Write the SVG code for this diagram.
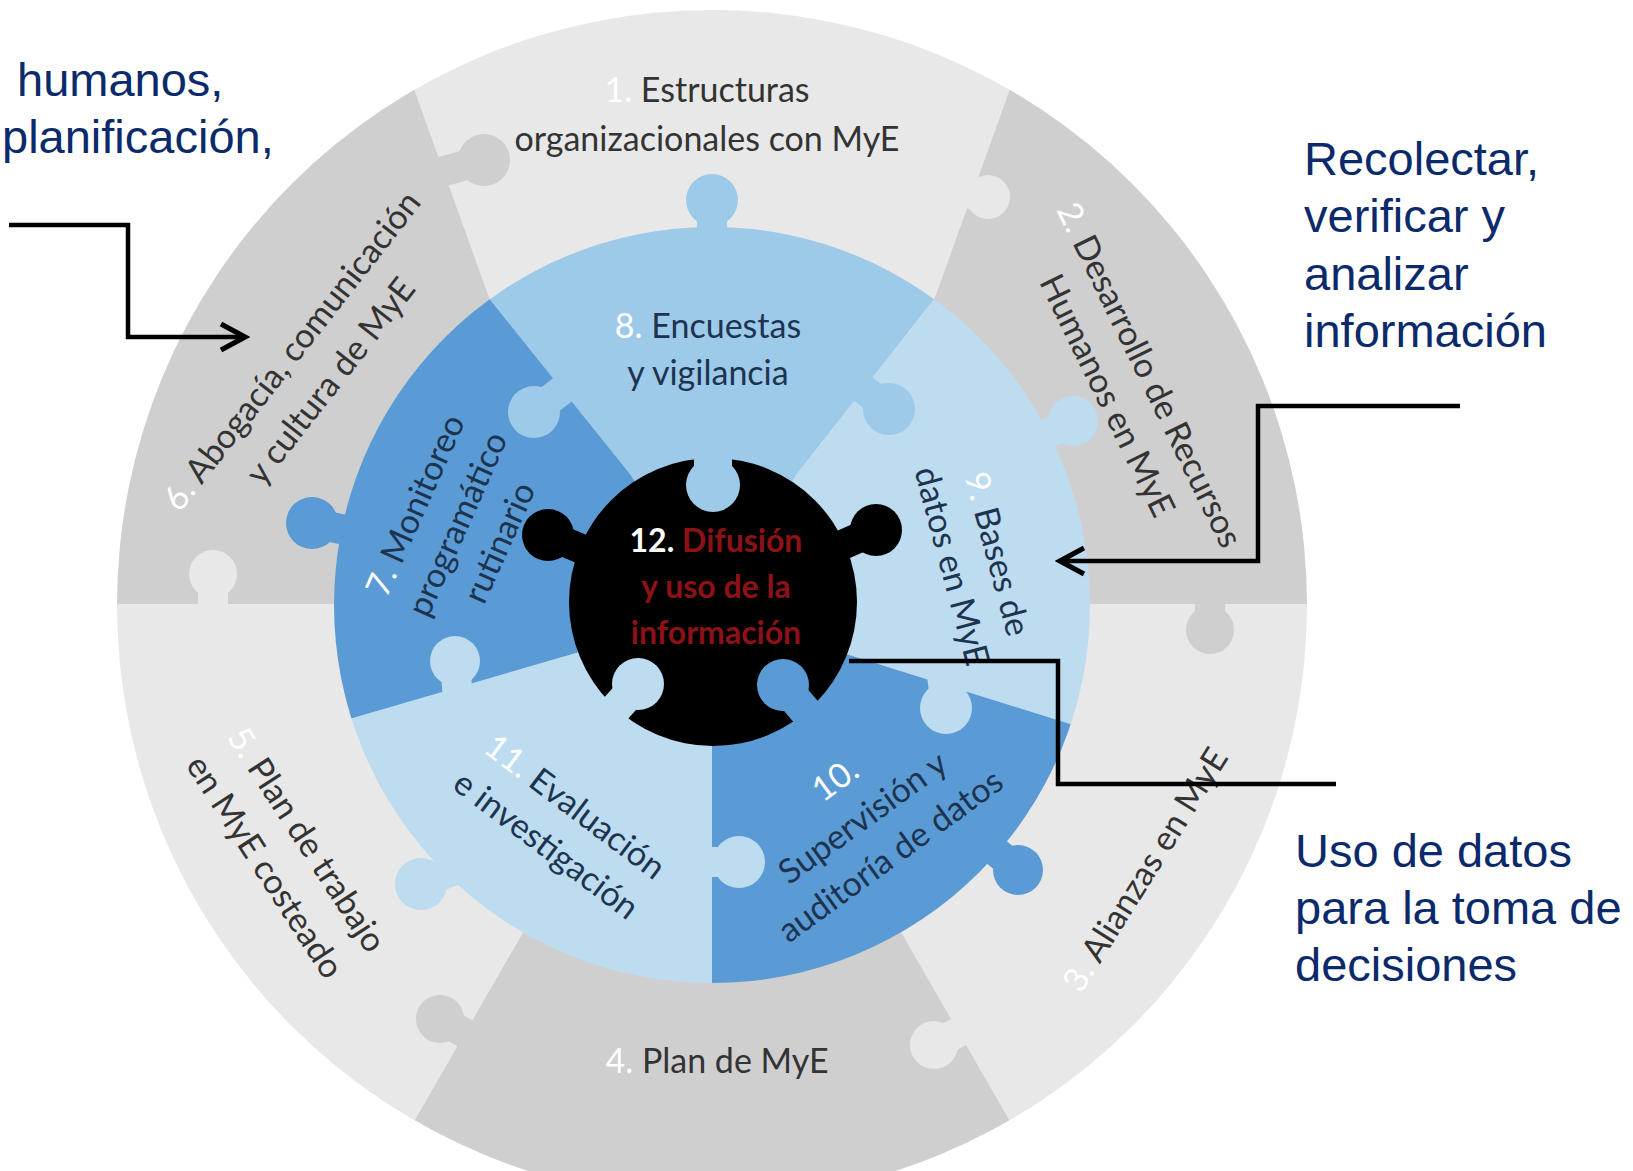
<svg xmlns="http://www.w3.org/2000/svg" width="1633" height="1171" viewBox="0 0 1633 1171">
<defs>
<style>
.dk{fill:#cfcfcf}.lt{fill:#e8e8e8}.b8{fill:#9ecae9}.bl{fill:#bddcf0}.bm{fill:#5b9bd5}.bk{fill:#000}
.ndk{stroke:#cfcfcf}.nlt{stroke:#e8e8e8}.nb8{stroke:#9ecae9}.nbl{stroke:#bddcf0}.nbm{stroke:#5b9bd5}.nbk{stroke:#000}
.neck{stroke-width:30;stroke-linecap:butt;fill:none}
.lbl{font-family:Lato,"Open Sans","Liberation Sans",sans-serif;font-size:34px;text-anchor:middle;fill:#333}
.in{fill:#1d3450}
.n{fill:#fff}
.ctr{font-family:Lato,"Liberation Sans",sans-serif;font-weight:bold;font-size:32px;text-anchor:middle;fill:#8e1118}
.note{font-family:"Liberation Sans",Arial,sans-serif;font-size:47px;fill:#0b2a6b}
.conn{fill:none;stroke:#000;stroke-width:4.5;stroke-linejoin:miter}
</style>
<clipPath id="co"><circle cx="712" cy="605" r="595"/></clipPath>
<clipPath id="ci"><circle cx="712" cy="605" r="378"/></clipPath>
<marker id="arr" markerUnits="userSpaceOnUse" markerWidth="36" markerHeight="36" viewBox="0 0 36 36" refX="31" refY="18" orient="auto"><path d="M7,5 L31,18 L7,31" fill="none" stroke="#000" stroke-width="5" stroke-linejoin="miter"/></marker>
</defs>
<rect width="1633" height="1171" fill="#fff"/>

<g id="outer-ring" clip-path="url(#co)">
  <g id="node-1"><polygon class="lt" points="712,605 489.8,299.2 346,-100 1078,-100 934.2,299.2"/></g>
  <g id="node-2"><polygon class="dk" points="712,604 934.2,299.2 1078,-100 1400,-100 1400,604"/></g>
  <g id="node-3"><polygon class="lt" points="712,604 1400,604 1400,1300 1112,1298"/></g>
  <g id="node-4"><polygon class="dk" points="712,604 1112,1298 312,1298"/></g>
  <g id="node-5"><polygon class="lt" points="712,604 312,1298 0,1300 0,604"/></g>
  <g id="node-6"><polygon class="dk" points="712,604 0,604 0,-100 346,-100 489.8,299.2"/></g>
</g>

<g id="outer-tabs">
  <line class="neck ndk" x1="430" y1="175" x2="484" y2="160"/><circle class="dk" cx="484" cy="160" r="26"/>
  <line class="neck nlt" x1="950" y1="190" x2="988" y2="197"/><circle class="lt" cx="988" cy="197" r="22"/>
  <line class="neck ndk" x1="1210" y1="590" x2="1210" y2="630"/><circle class="dk" cx="1210" cy="630" r="24"/>
  <line class="neck nlt" x1="972" y1="1025" x2="934" y2="1045"/><circle class="lt" cx="934" cy="1045" r="24"/>
  <line class="neck ndk" x1="478" y1="1041" x2="440" y2="1019"/><circle class="dk" cx="440" cy="1019" r="24"/>
  <line class="neck nlt" x1="213" y1="615" x2="213" y2="574"/><circle class="lt" cx="213" cy="574" r="24"/>
</g>

<g id="inner-ring" clip-path="url(#ci)">
  <g id="node-8"><polygon class="b8" points="712,602 630,474 370,150 1051,150 797,474"/></g>
  <g id="node-9"><polygon class="bl" points="712,602 797,474 1051,150 1150,150 1150,749 843,653"/></g>
  <g id="node-10"><polygon class="bm" points="712,602 843,653 1150,749 1150,1050 712,1050"/></g>
  <g id="node-11"><polygon class="bl" points="712,602 712,1050 270,1050 270,742 583,651"/></g>
  <g id="node-7"><polygon class="bm" points="712,602 583,651 270,742 270,150 370,150 630,474"/></g>
</g>

<g id="inner-tabs">
  <line class="neck nb8" x1="712" y1="245" x2="712" y2="200"/><circle class="b8" cx="712" cy="200" r="26"/>
  <line class="neck nbm" x1="360" y1="533" x2="312" y2="523"/><circle class="bm" cx="312" cy="523" r="26"/>
  <line class="neck nbl" x1="1035" y1="440" x2="1073" y2="421"/><circle class="bl" cx="1073" cy="421" r="25"/>
  <line class="neck nbm" x1="988" y1="845" x2="1018" y2="870"/><circle class="bm" cx="1018" cy="870" r="25"/>
  <line class="neck nbl" x1="455" y1="870" x2="421" y2="884"/><circle class="bl" cx="421" cy="884" r="26"/>
  <line class="neck nb8" x1="566" y1="387" x2="534" y2="412"/><circle class="b8" cx="534" cy="412" r="26"/>
  <line class="neck nb8" x1="858" y1="385" x2="889" y2="409"/><circle class="b8" cx="889" cy="409" r="26"/>
  <line class="neck nbl" x1="942" y1="675" x2="946" y2="708"/><circle class="bl" cx="946" cy="708" r="26"/>
  <line class="neck nbl" x1="700" y1="862" x2="739" y2="862"/><circle class="bl" cx="739" cy="862" r="26"/>
  <line class="neck nbl" x1="458" y1="700" x2="455" y2="661"/><circle class="bl" cx="455" cy="661" r="25"/>
</g>

<g id="node-12">
  <circle class="bk" cx="713" cy="602" r="144"/>
  <line class="neck nbk" x1="840" y1="546" x2="876" y2="530"/><circle class="bk" cx="876" cy="530" r="26"/>
  <line class="neck nbk" x1="584" y1="550" x2="548" y2="535"/><circle class="bk" cx="548" cy="535" r="26"/>
  <line class="neck nb8" style="stroke-width:38" x1="713" y1="440" x2="713" y2="485"/><circle class="b8" cx="713" cy="485" r="27"/>
  <line class="neck nbl" style="stroke-width:32" x1="608" y1="717" x2="638" y2="684"/><circle class="bl" cx="638" cy="684" r="26"/>
  <line class="neck nbm" style="stroke-width:32" x1="812" y1="719" x2="783" y2="685"/><circle class="bm" cx="783" cy="685" r="26"/>
  <text class="ctr" x="716" y="552"><tspan fill="#fff">12.</tspan> Difusión</text>
  <text class="ctr" x="716" y="598">y uso de la</text>
  <text class="ctr" x="716" y="644">información</text>
</g>

<g id="labels">
  <g id="label-1"><text class="lbl" x="707" y="102"><tspan class="n">1.</tspan> Estructuras</text><text class="lbl" x="707" y="151">organizacionales con MyE</text></g>
  <g id="label-2" transform="translate(1139,380) rotate(64)"><text class="lbl" x="0" y="0"><tspan class="n">2.</tspan> Desarrollo de Recursos</text><text class="lbl" x="0" y="47">Humanos en MyE</text></g>
  <g id="label-3" transform="translate(1155,876) rotate(-58)"><text class="lbl" x="0" y="0"><tspan class="n">3.</tspan> Alianzas en MyE</text></g>
  <g id="label-4"><text class="lbl" x="717" y="1073"><tspan class="n">4.</tspan> Plan de MyE</text></g>
  <g id="label-5" transform="translate(297,846) rotate(57)"><text class="lbl" x="0" y="0"><tspan class="n">5.</tspan> Plan de trabajo</text><text class="lbl" x="0" y="50">en MyE costeado</text></g>
  <g id="label-6" transform="translate(301,358) rotate(-52)"><text class="lbl" x="0" y="0"><tspan class="n">6.</tspan> Abogacía, comunicación</text><text class="lbl" x="0" y="49">y cultura de MyE</text></g>
  <g id="label-7" transform="translate(426,510) rotate(-66)"><text class="lbl in" x="0" y="0"><tspan class="n">7.</tspan> Monitoreo</text><text class="lbl in" x="0" y="46">programático</text><text class="lbl in" x="0" y="92">rutinario</text></g>
  <g id="label-8"><text class="lbl in" x="708" y="338"><tspan class="n">8.</tspan> Encuestas</text><text class="lbl in" x="708" y="385">y vigilancia</text></g>
  <g id="label-9" transform="translate(986,557) rotate(75)"><text class="lbl in" x="0" y="0"><tspan class="n">9.</tspan> Bases de</text><text class="lbl in" x="0" y="47">datos en MyE</text></g>
  <g id="label-10" transform="translate(842,789) rotate(-36)"><text class="lbl in" x="0" y="0"><tspan class="n">10.</tspan></text><text class="lbl in" x="0" y="47">Supervisión y</text><text class="lbl in" x="0" y="94">auditoría de datos</text></g>
  <g id="label-11" transform="translate(568,816) rotate(37)"><text class="lbl in" x="0" y="0"><tspan class="n">11.</tspan> Evaluación</text><text class="lbl in" x="0" y="48">e investigación</text></g>
</g>

<g id="connectors">
  <polyline class="conn" points="9,225 128,225 128,337 245,337" marker-end="url(#arr)"/>
  <polyline class="conn" points="1460,406 1258,406 1258,561 1060,561" marker-end="url(#arr)"/>
  <polyline class="conn" points="849,661 1058,661 1058,784 1336,784"/>
</g>

<g id="annotations">
  <text class="note" x="17" y="96">humanos,</text>
  <text class="note" x="2" y="153">planificación,</text>
  <text class="note"><tspan x="1304" y="175">Recolectar,</tspan><tspan x="1304" y="232">verificar y</tspan><tspan x="1304" y="290">analizar</tspan><tspan x="1304" y="347">información</tspan></text>
  <text class="note"><tspan x="1295" y="867">Uso de datos</tspan><tspan x="1295" y="924">para la toma de</tspan><tspan x="1295" y="981">decisiones</tspan></text>
</g>
</svg>
